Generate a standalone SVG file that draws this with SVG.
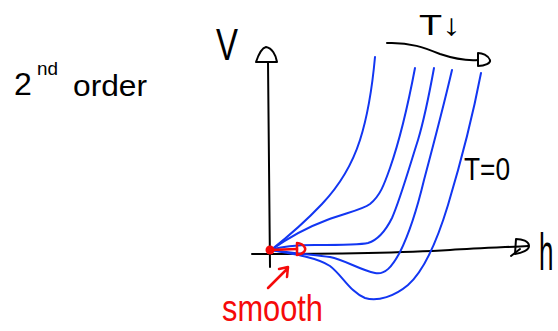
<svg xmlns="http://www.w3.org/2000/svg" width="558" height="331" viewBox="0 0 558 331">
<style>
.ink{fill:none;stroke:#000;stroke-width:2;stroke-linecap:round;stroke-linejoin:round}
.blue{fill:none;stroke:#1236f2;stroke-width:2;stroke-linecap:round}
.red{fill:none;stroke:#f50a0a;stroke-width:2.5;stroke-linecap:round;stroke-linejoin:round}
.t{font-family:"Liberation Sans","DejaVu Sans",sans-serif;fill:#000}
</style>
<rect width="558" height="331" fill="#fff"/>
<g id="title">
<text class="t" x="14" y="95" font-size="32">2</text>
<text class="t" x="37" y="75" font-size="18" textLength="21" lengthAdjust="spacingAndGlyphs">nd</text>
<text class="t" x="73" y="96" font-size="30" textLength="74" lengthAdjust="spacingAndGlyphs">order</text>
</g>
<g id="axes">
<path class="ink" d="M268,62 L270,267"/>
<path class="ink" d="M256,62 L277,62 C276,55 272,48 266,47 C262,48 258,56 256,62 Z"/>
<path class="ink" d="M252,254 C320,254 400,253 450,250 C480,248 510,247 528,246"/>
<path class="ink" d="M516,239 L515,254 C522,253 529,250 529,246 C529,241 522,239 516,239 Z"/>
<path class="ink" d="M511,256 L520,249"/>
<text class="t" x="216" y="60" font-size="44" textLength="22" lengthAdjust="spacingAndGlyphs">V</text>
<text class="t" transform="translate(539,270) scale(0.5,1)" font-size="52">h</text>
</g>
<g id="curves">
<path class="blue" d="M271,250 C285,239 305,222 322,204 C340,185 352,165 360,140 C367,118 372,90 375,57"/>
<path class="blue" d="M271,250 C288,238 308,227 327,220 C345,213 362,210 370,204 C380,196 384,185 390,168 C398,145 408,105 415,68"/>
<path class="blue" d="M271,250 C280,247 295,245 315,245 C340,245 360,245 368,243 C378,240 386,230 392,218 C400,200 410,165 418,140 C424,120 430,90 434,68"/>
<path class="blue" d="M271,250 C290,253 315,255 330,257 C345,260 360,270 375,273 C385,275 392,267 400,252 C410,232 418,205 424,180 C432,150 445,100 452,70"/>
<path class="blue" d="M271,250 C295,254 318,258 330,266 C342,275 350,292 365,298 C378,302 395,296 408,285 C425,270 438,238 448,205 C460,165 472,120 481,73"/>
</g>
<g id="t-arrow">
<path class="ink" d="M387,43 C410,42 425,48 440,54 C455,59 465,61 478,60"/>
<path class="ink" d="M478,53 L478,66 C485,66 491,63 490,60 C488,55 482,53 478,53 Z"/>
<text class="t" x="419" y="35" font-size="30" textLength="42" lengthAdjust="spacingAndGlyphs">T↓</text>
<text class="t" x="464" y="180" font-size="32" textLength="46" lengthAdjust="spacingAndGlyphs">T=0</text>
</g>
<g id="smooth">
<circle cx="270" cy="250" r="4.5" fill="#f50a0a"/>
<path class="red" d="M270,250 L297,249" stroke-width="3.5"/>
<path class="red" d="M297,243 L297,255 C303,254 306,251 305,248 C304,245 300,243 297,243 Z"/>
<path class="red" d="M268,288 L288,268 M279,269 L288,267 L287,277"/>
<text class="t" x="222" y="321" font-size="36" style="fill:#f50a0a" textLength="101" lengthAdjust="spacingAndGlyphs">smooth</text>
</g>
</svg>
